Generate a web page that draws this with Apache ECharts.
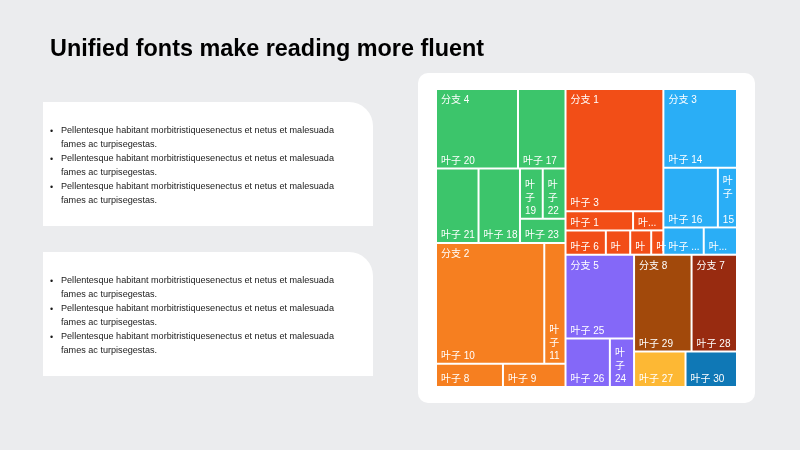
<!DOCTYPE html>
<html>
<head>
<meta charset="utf-8">
<script src="https://cdn.jsdelivr.net/npm/echarts@6/dist/echarts.min.js"></script>
<style>
    html, body { margin: 0; padding: 0; background: #ebecee; }
    #main { width: 800px; height: 450px; }
</style>
</head>
<body>
<div id="main"></div>
<script>
var TITLE = 'Unified fonts make reading more fluent';
var bulletLines = [
    'Pellentesque habitant morbitristiquesenectus et netus et malesuada',
    'fames ac turpisegestas.'
];

// top level of the treemap: branches plus two loose leaves
var topNames = ['分支 4', '分支 2', '分支 1', '分支 3', '分支 5', '分支 8', '分支 7', '叶子 27', '叶子 30'];
var topColors = ['#3cc56b', '#f67f20', '#f24e17', '#2aaef6', '#8468f8', '#a2490b', '#982b10', '#fdb834', '#0f78b6'];
// nesting only, so squarify lands the blocks where the picture has them
var topLayout = [0, 1, [[2, 3], [4, [5, 6, 7, 8]]]];

var branch4Leaves = ['叶子 20', '叶子 17', '叶子 21', '叶子 18', '叶子 19', '叶子 22', '叶子 23'];
var branch4Values = [6400, 3710, 3110, 3030, 1120, 1120, 1090];
var branch4Layout = [0, 1, [2, [3, [[4, 5], 6]]]];

var branch2Leaves = ['叶子 10', '叶子 11', '叶子 8', '叶子 9'];
var branch2Values = [12840, 2520, 1520, 1420];
var branch2Layout = [[0, 1], [2, 3]];

var branch1Leaves = ['叶子 3', '叶子 1', '叶子 2', '叶子 6', '叶子 4', '叶子 5', '叶子 7'];
var branch1Values = [11740, 1270, 570, 960, 580, 500, 290];
var branch1Layout = [[0, [1, 2]], [3, 4, 5, 6]];

var branch3Leaves = ['叶子 14', '叶子 16', '叶子 15', '叶子 12', '叶子 13'];
var branch3Values = [5690, 3190, 1120, 1080, 890];
var branch3Layout = [0, [1, 2], [3, 4]];

var branch5Leaves = ['叶子 25', '叶子 26', '叶子 24'];
var branch5Values = [5640, 2110, 1150];
var branch5Layout = [0, [1, 2]];

var branch8Leaves = ['叶子 29'];
var branch8Values = [5470];
var branch7Leaves = ['叶子 28'];
var branch7Values = [4320];
var leaf27Values = [1790];
var leaf30Values = [1790];

// short, wide cells: cut with an ellipsis instead of wrapping
var truncatedLeaves = ['叶子 2', '叶子 12', '叶子 13'];

(function (win) {
    var FONT = '"Liberation Sans", "Noto Sans CJK SC", sans-serif';
    var CLEAR = 'rgba(0,0,0,0)';

    var topItems = [
        { leaves: branch4Leaves, values: branch4Values, layout: branch4Layout },
        { leaves: branch2Leaves, values: branch2Values, layout: branch2Layout },
        { leaves: branch1Leaves, values: branch1Values, layout: branch1Layout },
        { leaves: branch3Leaves, values: branch3Values, layout: branch3Layout },
        { leaves: branch5Leaves, values: branch5Values, layout: branch5Layout },
        { leaves: branch8Leaves, values: branch8Values, layout: [0] },
        { leaves: branch7Leaves, values: branch7Values, layout: [0] },
        { leaves: [topNames[7]], values: leaf27Values, layout: null },
        { leaves: [topNames[8]], values: leaf30Values, layout: null }
    ];

    function buildNode(spec, makeLeaf) {
        if (typeof spec === 'number') {
            return makeLeaf(spec);
        }
        return {
            name: '',
            children: spec.map(function (item) {
                return buildNode(item, makeLeaf);
            })
        };
    }

    function sum(arr) {
        var s = 0;
        arr.forEach(function (v) { s += v; });
        return s;
    }

    function leafNode(name, value) {
        var node = { name: name, value: value };
        if (truncatedLeaves.indexOf(name) >= 0) {
            node.label = { overflow: 'truncate' };
        }
        return node;
    }

    var mainData = buildNode(topLayout, function (i) {
        var item = topItems[i];
        if (!item.layout) {
            var single = leafNode(item.leaves[0], item.values[0]);
            single.itemStyle = { color: topColors[i] };
            return single;
        }
        return {
            name: topNames[i],
            itemStyle: { color: topColors[i] },
            children: buildNode(item.layout, function (j) {
                return leafNode(item.leaves[j], item.values[j]);
            }).children
        };
    }).children;

    // same blocks again, branches as leaves, only to carry the branch names
    var branchData = buildNode(topLayout, function (i) {
        var item = topItems[i];
        return {
            name: topNames[i],
            value: sum(item.values),
            itemStyle: { color: CLEAR, borderColor: CLEAR },
            label: { show: !!item.layout }
        };
    }).children;

    var graphics = [];
    graphics.push({
        type: 'text', x: 50, y: 50,
        style: { text: TITLE, font: 'bold 23.4px ' + FONT, fill: '#000', verticalAlign: 'middle' }
    });
    graphics.push({
        type: 'rect', shape: { x: 418, y: 73, width: 337, height: 330, r: 10 },
        style: { fill: '#fff' }
    });

    [102, 252].forEach(function (panelY) {
        graphics.push({
            type: 'rect', shape: { x: 43, y: panelY, width: 330, height: 124, r: [0, 24, 0, 0] },
            style: { fill: '#fff' }
        });
        for (var k = 0; k < 3; k++) {
            var lineY = panelY + 28 + k * 28;
            graphics.push({
                type: 'text', x: 50, y: lineY + 1.5,
                style: { text: '•', font: '9px ' + FONT, fill: '#1a1a1a', verticalAlign: 'middle' }
            });
            graphics.push({
                type: 'text', x: 61, y: lineY - 7,
                style: {
                    text: bulletLines.join('\n'), font: '9.1px ' + FONT, fill: '#1a1a1a',
                    lineHeight: 14, verticalAlign: 'top'
                }
            });
        }
    });

    var common = {
        type: 'treemap',
        left: 437, top: 90, width: 299, height: 296,
        sort: false,
        squareRatio: 1.135,
        roam: false,
        nodeClick: false,
        breadcrumb: { show: false },
        silent: true
    };

    var option = {
        animation: false,
        backgroundColor: '#ebecee',
        graphic: { elements: graphics },
        series: [
            echarts.util.extend({
                data: mainData,
                z: 2,
                itemStyle: { borderWidth: 0, gapWidth: 2, borderColor: '#fff' },
                label: {
                    show: true, position: 'insideBottomLeft', formatter: '{b}',
                    color: '#fff', fontSize: 10, lineHeight: 13, fontFamily: FONT,
                    padding: [1, 1, 0, 4], overflow: 'break'
                }
            }, common),
            echarts.util.extend({
                data: branchData,
                z: 5,
                itemStyle: { borderWidth: 0, gapWidth: 2, color: CLEAR, borderColor: CLEAR },
                label: {
                    show: true, position: 'insideTopLeft', formatter: '{b}',
                    color: '#fff', fontSize: 10, lineHeight: 13, fontFamily: FONT,
                    padding: [4, 4, 4, 4], overflow: 'truncate'
                }
            }, common)
        ]
    };

    var chart = echarts.init(document.getElementById('main'));
    chart.setOption(option);
}(window));
</script>
</body>
</html>
